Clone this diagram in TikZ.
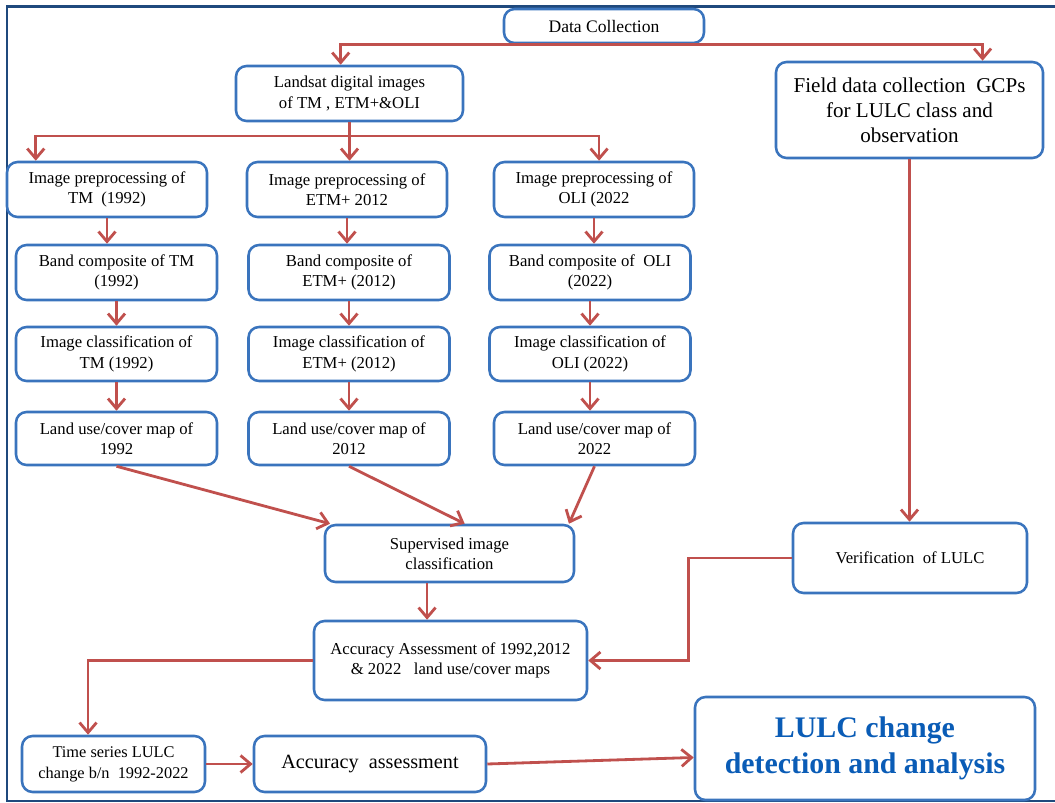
\documentclass[tikz,border=0pt]{standalone}
\usepackage{fontspec}
\setmainfont{Liberation Serif}
\usetikzlibrary{arrows.meta}
\definecolor{boxblue}{RGB}{58,116,189}
\definecolor{arrowred}{RGB}{192,80,77}
\definecolor{frameblue}{RGB}{31,73,125}
\definecolor{titleblue}{RGB}{10,92,182}

\begin{document}
\begin{tikzpicture}[x=0.02cm,y=-0.02cm, %pixel units
  box/.style={draw=boxblue,line width=1.45pt,rounded corners=6pt,align=center,inner sep=0pt,
    font=\fontsize{9.5}{11.5}\selectfont},
  sz/.style 2 args={minimum width=#1*0.02cm,minimum height=#2*0.02cm},
  arr/.style={draw=arrowred,line width=1.6pt,-{Straight Barb[length=2mm,width=3.4mm]}}]
\useasboundingbox (0,0) rectangle (1055,803);
\draw[frameblue,line width=1.7pt] (1055,7) -- (7,7) -- (7,801) -- (1055,801);

\node[box,sz={200}{34},font=\fontsize{10}{12}\selectfont] (dc) at (604,26) {Data Collection};
\node[box,sz={227}{55}] (land) at (349.5,93.5) {Landsat digital images\\of TM , ETM+\&OLI};
\node[box,sz={267}{96},font=\fontsize{12}{14.2}\selectfont] (field) at (909.5,110)
  {Field data collection~ GCPs\\for LULC class and\\observation};

\foreach \n/\x/\t in {tm/107/{Image preprocessing of\\TM~ (1992)},
                      etm/347/{Image preprocessing of\\ETM+ 2012},
                      oli/594/{Image preprocessing of\\OLI (2022}} {
\node[box,sz={200}{55}] (pre\n) at (\x,189.5) {\t};
}
\foreach \n/\x/\t in {tm/116.5/{Band composite of TM\\(1992)},
                      etm/349/{Band composite of\\ETM+ (2012)},
                      oli/590/{Band composite of~ OLI\\(2022)}} {
\node[box,sz={201}{55}] (band\n) at (\x,272.5) {\t};
}
\foreach \n/\x/\t in {tm/116.5/{Image classification of\\TM (1992)},
                      etm/349/{Image classification of\\ETM+ (2012)},
                      oli/590/{Image classification of\\OLI (2022)}} {
\node[box,sz={201}{54}] (class\n) at (\x,354) {\t};
}
\foreach \n/\x/\t in {tm/116.5/{Land use/cover map of\\1992},
                      etm/349/{Land use/cover map of\\2012},
                      oli/594.5/{Land use/cover map of\\2022}} {
\node[box,sz={201}{53}] (map\n) at (\x,438.5) {\t};
}

\node[box,sz={249}{57}] (sup) at (449.5,553.5) {Supervised image\\classification};
\node[box,sz={234}{70}] (ver) at (910,558) {Verification~ of LULC};
\node[box,sz={273}{79}] (acc) at (450.5,660.5) {Accuracy Assessment of 1992,2012\\\& 2022~~ land use/cover maps};
\node[box,sz={183}{56},font=\fontsize{9.3}{12}\selectfont] (ts) at (113.5,764) {Time series LULC\\change b/n~ 1992-2022};
\node[box,sz={232}{56},font=\fontsize{11.5}{14}\selectfont] (aa) at (370,764) {Accuracy~ assessment};
\node[box,sz={340}{103},font=\fontsize{17}{20.4}\selectfont\bfseries,text=titleblue] (lulc) at (865,748.5)
  {LULC change\\detection and analysis};

\coordinate (split) at (land.south |- 0,136);

\draw[arr] (dc.south) -| (land.107);
\draw[arr] (dc.south) -| (field.34);
\draw[arr] (land.south) -- (land.south |- preetm.north);
\draw[arr] (split) -| (pretm.158);
\draw[arr] (split) -| (preoli.80);
\foreach \n in {tm,etm,oli} {
\draw[arr] (pre\n.south) -- (pre\n.south |- band\n.north);
\draw[arr] (band\n.south) -- (band\n.south |- class\n.north);
\draw[arr] (class\n.south) -- (class\n.south |- map\n.north);
}
\draw[arr] (maptm.south) -- (sup.166);
\draw[arr] (mapetm.south) -- (sup.63);
\draw[arr] (mapoli.south) -- (sup.14);
\draw[arr] (sup.-127) -- (sup.-127 |- acc.north);
\draw[arr] (field.south) -- (field.south |- ver.north);
\draw[arr] (ver.west) -- ++(-103,0) |- (acc.east);
\draw[arr] (acc.west) -| (ts.131);
\draw[arr] (ts.east) -- (aa.west);
\draw[arr] (aa.east) -- (lulc.183);
\end{tikzpicture}
\end{document}
